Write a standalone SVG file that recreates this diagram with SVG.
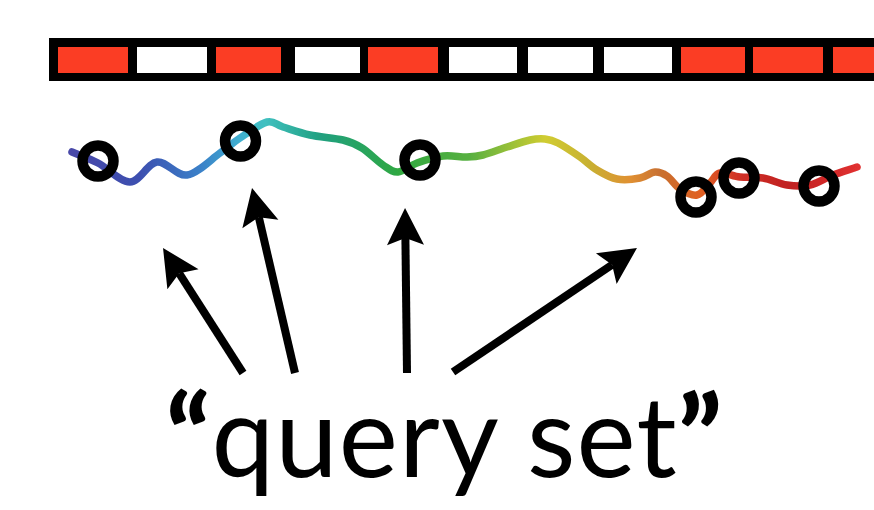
<svg xmlns="http://www.w3.org/2000/svg" width="874" height="510" viewBox="0 0 874 510">
  <defs>
    <style>
      .red { fill: #fb3d24; }
      .white { fill: #ffffff; }
      .ring { fill: none; stroke: #000; stroke-width: 10.5; }
      .arrow { stroke: #000; stroke-width: 8; fill: none; stroke-linecap: butt; marker-end: url(#head); }
      .label { font-family: "Lato", "Open Sans", "Liberation Sans", sans-serif; font-size: 112px; fill: #000; }
      .quote { font-weight: 900; }
    </style>
    <marker id="head" markerUnits="userSpaceOnUse" orient="auto" overflow="visible" refX="0" refY="0" markerWidth="40" markerHeight="40">
      <path d="M30,0 L-7,-18.5 L0,0 L-7,18.5 Z" fill="#000"/>
    </marker>
    <linearGradient id="rainbow" gradientUnits="userSpaceOnUse" x1="72" y1="0" x2="857" y2="0">
      <stop offset="0" stop-color="#4848a8"/>
      <stop offset="0.087" stop-color="#3c50b0"/>
      <stop offset="0.163" stop-color="#3a80c8"/>
      <stop offset="0.214" stop-color="#40b0d0"/>
      <stop offset="0.246" stop-color="#40c0c0"/>
      <stop offset="0.316" stop-color="#20a080"/>
      <stop offset="0.418" stop-color="#30a840"/>
      <stop offset="0.507" stop-color="#58b040"/>
      <stop offset="0.558" stop-color="#98c038"/>
      <stop offset="0.603" stop-color="#d0cc30"/>
      <stop offset="0.66" stop-color="#c8b030"/>
      <stop offset="0.711" stop-color="#e09030"/>
      <stop offset="0.749" stop-color="#c87030"/>
      <stop offset="0.8" stop-color="#e06020"/>
      <stop offset="0.851" stop-color="#d03028"/>
      <stop offset="0.915" stop-color="#c02020"/>
      <stop offset="1" stop-color="#e03030"/>
    </linearGradient>
    <filter id="soft" x="-5%" y="-50%" width="110%" height="200%">
      <feGaussianBlur stdDeviation="0.7"/>
    </filter>
  </defs>

  <rect width="874" height="510" fill="#ffffff"/>

  <g id="bar">
    <rect x="49" y="38" width="830" height="43" fill="#000"/>
    <rect class="red" x="58" y="47" width="70" height="26"/>
    <rect class="white" x="137" y="47" width="70" height="26"/>
    <rect class="red" x="216" y="47" width="65" height="26"/>
    <rect class="white" x="295" y="47" width="65" height="26"/>
    <rect class="red" x="368" y="47" width="70" height="26"/>
    <rect class="white" x="449" y="47" width="68" height="26"/>
    <rect class="white" x="528" y="47" width="65" height="26"/>
    <rect class="white" x="604" y="47" width="68" height="26"/>
    <rect class="red" x="681" y="47" width="64" height="26"/>
    <rect class="red" x="753" y="47" width="70" height="26"/>
    <rect class="red" x="833" y="47" width="45" height="26"/>
  </g>

  <g id="trajectory">
    <path filter="url(#soft)" fill="none" stroke="url(#rainbow)" stroke-width="7.5" stroke-linecap="round" stroke-linejoin="round"
      d="M72,152 C80.7,155.7 88.3,158 98,163 S120.2,182.2 130,182 S147.5,163.2 157,162 S176.5,176.5 187,175 S211.2,159.2 220,153 S232.2,143.2 240,138 S259.8,123.8 267,122 S275.8,124.8 283,127 S300,132.8 310,135 S334.3,137.8 343,140 S355.3,143.8 362,148 S377,161 383,165 S392.3,172.3 398,172 S409.5,165.7 417,163 S434.7,157 443,156 S460.3,157.2 467,157 S476.3,156.7 483,155 S499.2,149.5 507,147 S523.7,141.3 530,140 S540.3,138.5 545,139 S552.2,140 558,143 S573.5,152.5 580,157 S590.8,166.3 597,170 S609.8,177.7 617,179 S633.7,179.2 640,178 S650.5,172.3 655,172 S662.8,173.2 667,176 S675,185.8 680,189 S692,196 697,195 S706.2,186.7 710,183 S715,174 720,173 S732.8,176.2 740,177 S755.2,176.7 763,178 S779.2,183.8 787,185 S802.3,186.7 810,185 S825.2,178 833,175 S849,169.7 857,167"/>
  </g>

  <g id="q1"><circle class="ring" cx="98" cy="161" r="15.5"/></g>
  <g id="q2"><circle class="ring" cx="240.5" cy="141" r="15.5"/></g>
  <g id="q3"><circle class="ring" cx="420" cy="160" r="15.5"/></g>
  <g id="q4"><circle class="ring" cx="696" cy="197" r="15.5"/></g>
  <g id="q5"><circle class="ring" cx="739" cy="178" r="15.5"/></g>
  <g id="q6"><circle class="ring" cx="819" cy="186" r="15.5"/></g>

  <g id="connectors">
    <line class="arrow" x1="243" y1="373" x2="179.2" y2="273.3"/>
    <line class="arrow" x1="295" y1="373" x2="258.8" y2="217.2"/>
    <line class="arrow" x1="407" y1="373" x2="405.4" y2="238"/>
    <line class="arrow" x1="453" y1="372" x2="612.1" y2="264.8"/>
  </g>

  <g id="label">
    <text class="label" x="166" y="477" textLength="556" lengthAdjust="spacing"><tspan class="quote">“</tspan>query set<tspan class="quote">”</tspan></text>
  </g>
</svg>
